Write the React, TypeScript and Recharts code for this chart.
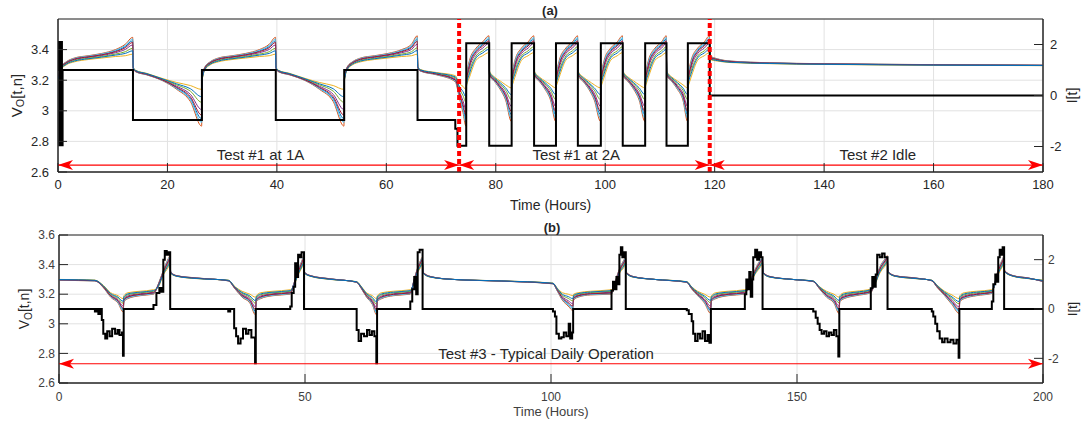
import React from 'react';
import {
  ComposedChart,
  Line,
  XAxis,
  YAxis,
  CartesianGrid,
  ReferenceLine,
  ReferenceArea,
  ReferenceDot,
} from 'recharts';

const FONT = '"Liberation Sans", Arial, Helvetica, sans-serif';
const AXIS = '#262626';
const GRID = '#e2e2e2';
const RED = '#ff0000';

// cells (MATLAB default colour order) and their relative position inside the spread
const cellColors = ['#0072BD', '#D95319', '#EDB120', '#7E2F8E', '#77AC30', '#4DBEEE', '#A2142F', '#0072BD'];
const cellSpread = [0.8, 1.0, 0.0, 0.55, 0.35, 0.9, 0.7, 0.2];

// ticks
const topTimeTicks = [0, 20, 40, 60, 80, 100, 120, 140, 160, 180];
const topVoltTicks = [2.6, 2.8, 3, 3.2, 3.4];
const currentTicks = [-2, 0, 2];
const bottomTimeTicks = [0, 50, 100, 150, 200];
const bottomVoltTicks = [2.6, 2.8, 3, 3.2, 3.4, 3.6];

// annotations
const phaseBoundaries = [73.3, 119.1];
const topSegments = [[0, 73.3], [73.3, 119.1], [119.1, 180]];
const topSegmentLabels = ['Test #1 at 1A', 'Test #1 at 2A', 'Test #2 Idle'];
const topLabelTimes = [37, 94.7, 149.8];
const topArrowLevel = 2.645;
const bottomSegments = [[0, 200]];
const bottomSegmentLabels = ['Test #3 - Typical Daily Operation'];
const bottomLabelTimes = [99];
const bottomArrowLevel = 2.73;

// Test #1 at 1A : [time, voltage of nearest cell, voltage of farthest cell]
const topVoltage1A = [
  [0, 3.2, 3.22], [0.6, 3.27, 3.29], [1.5, 3.3, 3.32], [3, 3.32, 3.345], [5.5, 3.335, 3.36], [8, 3.345, 3.375], [10.5, 3.355, 3.4], [12.3, 3.36, 3.435], [13.65, 3.37, 3.48],
  [13.75, 3.285, 3.275], [14.2, 3.265, 3.255], [16.2, 3.245, 3.235], [19.2, 3.21, 3.195], [21.7, 3.185, 3.14], [24.2, 3.165, 3.06], [26.25, 3.14, 2.9],
  [26.35, 3.2, 3.22], [26.9, 3.27, 3.29], [27.8, 3.3, 3.32], [29.3, 3.32, 3.345], [31.8, 3.335, 3.36], [34.3, 3.345, 3.375], [36.8, 3.355, 3.4], [38.6, 3.36, 3.435], [39.75, 3.37, 3.48],
  [39.85, 3.285, 3.275], [40.3, 3.265, 3.255], [42.3, 3.245, 3.235], [45.3, 3.21, 3.195], [47.8, 3.185, 3.14], [50.3, 3.165, 3.06], [52.25, 3.14, 2.9],
  [52.35, 3.2, 3.22], [52.9, 3.27, 3.29], [53.8, 3.3, 3.32], [55.3, 3.32, 3.345], [57.8, 3.335, 3.36], [60.3, 3.345, 3.375], [62.8, 3.355, 3.4], [64.6, 3.36, 3.435], [65.65, 3.37, 3.49],
  [65.75, 3.29, 3.28], [66.2, 3.27, 3.26], [69.2, 3.25, 3.235], [72.6, 3.23, 3.19],
];

// Test #1 at 2A
const topVoltage2A = [
  [73.3, 3.18, 3.09], [74.0, 3.16, 2.99], [74.55, 3.14, 2.9],
  [74.65, 3.16, 3.2], [75.2, 3.22, 3.33], [76.4, 3.33, 3.41], [77.6, 3.36, 3.45], [78.75, 3.38, 3.49],
  [78.85, 3.26, 3.23], [79.8, 3.22, 3.19], [80.8, 3.195, 3.14], [81.8, 3.17, 3.07], [82.85, 3.15, 2.93],
  [82.95, 3.16, 3.2], [83.5, 3.22, 3.33], [84.7, 3.33, 3.41], [85.9, 3.36, 3.45], [86.95, 3.38, 3.49],
  [87.05, 3.26, 3.23], [88.0, 3.22, 3.19], [89.0, 3.195, 3.14], [90.0, 3.17, 3.07], [90.95, 3.15, 2.93],
  [91.05, 3.16, 3.2], [91.6, 3.22, 3.33], [92.8, 3.33, 3.41], [94.0, 3.36, 3.45], [94.95, 3.38, 3.49],
  [95.05, 3.26, 3.23], [96.0, 3.22, 3.19], [97.0, 3.195, 3.14], [98.0, 3.17, 3.07], [99.15, 3.15, 2.93],
  [99.25, 3.16, 3.2], [99.8, 3.22, 3.33], [101.0, 3.33, 3.41], [102.2, 3.36, 3.45], [103.15, 3.38, 3.49],
  [103.25, 3.26, 3.23], [104.2, 3.22, 3.19], [105.2, 3.195, 3.14], [106.2, 3.17, 3.07], [107.25, 3.15, 2.93],
  [107.35, 3.16, 3.2], [107.9, 3.22, 3.33], [109.1, 3.33, 3.41], [110.3, 3.36, 3.45], [111.15, 3.38, 3.49],
  [111.25, 3.26, 3.23], [112.2, 3.22, 3.19], [113.2, 3.195, 3.14], [114.2, 3.17, 3.07], [115.05, 3.15, 2.93],
  [115.15, 3.16, 3.2], [115.7, 3.22, 3.33], [116.9, 3.33, 3.41], [118.1, 3.36, 3.45], [119.05, 3.38, 3.49],
];

// Test #2 idle
const topVoltageIdle = [
  [119.15, 3.335, 3.36], [120.5, 3.325, 3.34], [123, 3.315, 3.325], [130, 3.308, 3.314], [140, 3.303, 3.308], [160, 3.298, 3.302], [180, 3.295, 3.298],
];

// current I[t] for tests #1 and #2 : [time, amps]
const topCurrent = [
  [0, 1], [0.12, 2.1], [0.24, -1.95], [0.36, 2.1], [0.48, -1.95], [0.6, 2.1], [0.72, -1.95], [0.84, 1.0],
  [13.7, -0.96], [26.3, 1.0], [39.8, -0.96], [52.3, 1.0], [65.7, -0.96], [72.6, -1.3], [73.0, -1.97],
  [74.6, 2.05], [78.8, -1.97], [82.9, 2.05], [87.0, -1.97], [91.0, 2.05], [95.0, -1.97], [99.2, 2.05],
  [103.2, -1.97], [107.3, 2.05], [111.2, -1.97], [115.1, 2.05], [119.1, 0], [180, 0],
];

// Test #3 typical daily operation : [time, nearest cell, farthest cell]
const bottomVoltage = [
  [0, 3.3, 3.295], [4, 3.298, 3.292],
  [7.3, 3.295, 3.29], [9.0, 3.26, 3.245], [10.5, 3.21, 3.18], [12.0, 3.19, 3.14], [13.05, 3.17, 3.08],
  [13.2, 3.19, 3.15], [14.0, 3.21, 3.17], [16.5, 3.22, 3.19], [19.2, 3.23, 3.2],
  [20.2, 3.25, 3.27], [21.2, 3.33, 3.36], [22.2, 3.38, 3.44], [22.55, 3.4, 3.46],
  [22.7, 3.34, 3.35], [24.0, 3.32, 3.325], [28.0, 3.305, 3.31],
  [34.4, 3.295, 3.29], [35.8, 3.25, 3.235], [37.2, 3.22, 3.18], [38.8, 3.2, 3.14], [39.95, 3.18, 3.06],
  [40.1, 3.19, 3.15], [41.0, 3.21, 3.17], [43.5, 3.22, 3.19], [47.0, 3.23, 3.2],
  [47.8, 3.26, 3.28], [48.6, 3.33, 3.36], [49.4, 3.38, 3.43], [49.75, 3.4, 3.46],
  [49.9, 3.34, 3.35], [51.2, 3.32, 3.325], [55.0, 3.3, 3.305],
  [60.5, 3.285, 3.28], [61.5, 3.25, 3.235], [62.5, 3.21, 3.18], [63.7, 3.19, 3.13], [64.55, 3.17, 3.06],
  [64.7, 3.19, 3.15], [65.6, 3.21, 3.17], [68.0, 3.22, 3.19], [71.4, 3.23, 3.2],
  [72.1, 3.27, 3.29], [72.8, 3.34, 3.37], [73.5, 3.38, 3.43], [73.85, 3.4, 3.45],
  [74.0, 3.34, 3.35], [75.5, 3.315, 3.32], [80.0, 3.3, 3.3], [90.0, 3.29, 3.288],
  [100.4, 3.275, 3.27], [101.3, 3.24, 3.22], [102.3, 3.21, 3.16], [103.5, 3.2, 3.12], [104.45, 3.19, 3.09],
  [104.6, 3.2, 3.16], [105.5, 3.21, 3.18], [108.0, 3.22, 3.195], [112.3, 3.23, 3.2],
  [113.1, 3.27, 3.29], [113.9, 3.34, 3.37], [114.8, 3.38, 3.43], [115.15, 3.4, 3.45],
  [115.3, 3.34, 3.35], [116.7, 3.315, 3.32], [121.0, 3.3, 3.3],
  [127.6, 3.285, 3.28], [128.6, 3.25, 3.235], [129.8, 3.22, 3.19], [131.2, 3.2, 3.14], [132.45, 3.18, 3.07],
  [132.6, 3.19, 3.15], [133.5, 3.21, 3.17], [136.0, 3.22, 3.19], [139.4, 3.23, 3.2],
  [140.4, 3.26, 3.28], [141.4, 3.33, 3.36], [142.5, 3.38, 3.43], [142.95, 3.4, 3.45],
  [143.1, 3.34, 3.35], [144.5, 3.315, 3.32], [149.0, 3.3, 3.3],
  [153.3, 3.29, 3.285], [154.6, 3.25, 3.235], [156.0, 3.22, 3.18], [157.5, 3.2, 3.14], [158.55, 3.18, 3.07],
  [158.7, 3.19, 3.15], [159.6, 3.21, 3.17], [162.0, 3.22, 3.19], [165.0, 3.235, 3.21],
  [165.9, 3.27, 3.29], [166.8, 3.34, 3.38], [167.9, 3.39, 3.44], [168.35, 3.41, 3.46],
  [168.5, 3.345, 3.355], [170.0, 3.32, 3.325], [174.0, 3.305, 3.31],
  [177.4, 3.295, 3.29], [178.5, 3.26, 3.245], [180.0, 3.22, 3.19], [181.5, 3.195, 3.13], [182.95, 3.17, 3.07],
  [183.1, 3.19, 3.15], [184.0, 3.21, 3.17], [186.5, 3.22, 3.19], [189.6, 3.23, 3.205],
  [190.3, 3.27, 3.29], [191.0, 3.34, 3.38], [191.8, 3.39, 3.44], [192.05, 3.41, 3.46],
  [192.2, 3.35, 3.36], [194.0, 3.32, 3.325], [197.0, 3.305, 3.31], [200, 3.295, 3.285],
];

const bottomCurrent = [
  [0, 0], [7.3, -0.1], [7.7, 0], [8.0, -0.2], [8.4, 0], [8.7, -0.45], [9.0, -1.0], [9.4, -1.2], [9.8, -0.9], [10.3, -1.1], [10.8, -0.8], [11.4, -1.0], [11.9, -0.85], [12.3, -1.05], [12.8, -0.95], [13.0, -1.9], [13.15, 0],
  [19.2, 0.16], [19.8, 0.65], [20.4, 0.85], [20.8, 0.7], [21.2, 2.0], [21.5, 2.35], [21.9, 2.2], [22.2, 2.3], [22.6, 0],
  [34.4, -0.1], [34.8, 0], [35.6, -0.78], [36.0, -1.1], [36.4, -1.4], [36.9, -1.2], [37.4, -0.8], [38.0, -1.0], [38.5, -0.85], [39.1, -1.16], [39.85, -2.2], [40.0, 0],
  [47.0, 0.1], [47.3, 0.65], [47.7, 0.9], [48.0, 1.85], [48.3, 1.3], [48.6, 2.2], [49.0, 2.1], [49.3, 2.3], [49.8, 0],
  [60.5, -0.85], [60.9, -1.3], [61.4, -1.0], [62.0, -1.1], [62.6, -0.85], [63.1, -1.05], [63.6, -0.9], [64.1, -1.1], [64.5, -2.2], [64.65, 0],
  [71.4, 0.3], [71.8, 0.8], [72.2, 1.3], [72.6, 0.6], [72.9, 2.3], [73.3, 2.4], [73.9, 0],
  [100.4, -0.1], [100.8, -0.3], [101.1, -1.0], [101.6, -1.2], [102.1, -1.15], [102.6, -0.95], [103.1, -1.1], [103.6, -0.6], [103.9, -1.2], [104.3, -0.95], [104.5, 0],
  [112.3, 0.75], [112.6, 1.1], [113.0, 0.8], [113.3, 1.3], [113.7, 1.0], [113.9, 2.2], [114.2, 2.5], [114.5, 2.1], [114.8, 2.3], [115.2, 0],
  [127.6, -0.05], [128.0, -0.2], [128.6, -0.5], [128.9, -1.0], [129.3, -1.3], [129.8, -1.0], [130.3, -1.2], [130.8, -0.9], [131.3, -1.3], [131.8, -1.05], [132.2, -1.37], [132.5, 0],
  [139.4, 0.6], [139.7, 1.2], [140.0, 0.8], [140.3, 1.5], [140.6, 0.5], [140.9, 1.2], [141.1, 2.1], [141.5, 2.4], [141.9, 2.0], [142.3, 2.3], [142.7, 2.1], [143.0, 0],
  [153.3, -0.1], [153.8, -0.35], [154.2, -0.6], [154.6, -0.85], [155.0, -1.0], [155.5, -0.9], [156.0, -1.1], [156.5, -0.95], [157.0, -1.05], [157.5, -0.85], [158.0, -1.1], [158.4, -1.93], [158.6, 0],
  [165.0, 0.84], [165.3, 1.3], [165.6, 0.9], [166.0, 1.4], [166.3, 2.2], [166.8, 2.1], [167.3, 2.25], [167.8, 2.1], [168.4, 0],
  [177.4, -0.1], [177.7, -0.3], [178.1, -0.6], [178.5, -0.9], [179.0, -1.2], [179.5, -1.35], [180.0, -1.2], [180.6, -1.35], [181.2, -1.25], [181.8, -1.4], [182.4, -1.25], [182.85, -1.98], [183.0, 0],
  [189.6, 0.3], [189.9, 1.0], [190.3, 1.4], [190.6, 1.1], [190.9, 2.1], [191.2, 2.4], [191.5, 2.2], [191.8, 2.5], [192.1, 0], [200, 0],
];

// ---------- table builders ----------
function buildCells(rows: number[][]) {
  return rows.map(([t, near, far]) => {
    const r: Record<string, number> = { t };
    cellSpread.forEach((p, i) => {
      r['c' + i] = near + p * (far - near);
    });
    return r;
  });
}
function buildCurrent(rows: number[][]) {
  return rows.map(([t, i]) => ({ t, i }));
}
function buildArrow(seg: number[], level: number) {
  return [{ t: seg[0], v: level }, { t: seg[1], v: level }];
}

const topCells = buildCells([...topVoltage1A, ...topVoltage2A, ...topVoltageIdle]);
const topCurrentRows = buildCurrent(topCurrent);
const bottomCells = buildCells(bottomVoltage);
const bottomCurrentRows = buildCurrent(bottomCurrent);

// ---------- small render helpers ----------
const ArrowHead = (props: any) => {
  const { cx, cy, index } = props;
  if (cx == null || cy == null) return null;
  const dir = index === 0 ? 1 : -1;
  const L = 15;
  const h = 5;
  const n = 4;
  const d = `M${cx},${cy} L${cx + dir * L},${cy - h} L${cx + dir * (L - n)},${cy} L${cx + dir * L},${cy + h} Z`;
  return <path key={`ah-${index}-${cx}`} d={d} fill={RED} stroke="none" />;
};

const makeVoltLabel = (dx: number, fontSize: number) => (props: any) => {
  const vb = props.viewBox || {};
  const cx = vb.x + dx;
  const cy = vb.y + vb.height / 2;
  return (
    <text
      transform={`translate(${cx},${cy}) rotate(-90)`}
      textAnchor="middle"
      dominantBaseline="central"
      fontSize={fontSize}
      fill={AXIS}
      fontFamily={FONT}
    >
      V<tspan fontSize={fontSize * 0.72} dy={4}>O</tspan>
      <tspan dy={-4}>[t,n]</tspan>
    </text>
  );
};

const makeCurrentLabel = (dx: number, fontSize: number) => (props: any) => {
  const vb = props.viewBox || {};
  const cx = vb.x + dx;
  const cy = vb.y + vb.height / 2;
  return (
    <text
      transform={`translate(${cx},${cy}) rotate(-90)`}
      textAnchor="middle"
      dominantBaseline="central"
      fontSize={fontSize}
      fill={AXIS}
      fontFamily={FONT}
    >
      I[t]
    </text>
  );
};

function cellLines() {
  return cellSpread.map((_, i) => (
    <Line
      key={'cell' + i}
      yAxisId="v"
      dataKey={'c' + i}
      type="monotone"
      stroke={cellColors[i]}
      strokeWidth={1}
      dot={false}
      activeDot={false}
      isAnimationActive={false}
    />
  ));
}

function arrowLines(segments: number[][], level: number, prefix: string) {
  return segments.map((seg, k) => (
    <Line
      key={prefix + k}
      yAxisId="v"
      data={buildArrow(seg, level)}
      dataKey="v"
      type="linear"
      stroke={RED}
      strokeWidth={1.2}
      dot={ArrowHead}
      activeDot={false}
      isAnimationActive={false}
    />
  ));
}

function segmentLabels(labels: string[], times: number[], level: number, fontSize: number, prefix: string) {
  return labels.map((txt, k) => (
    <ReferenceDot
      key={prefix + k}
      yAxisId="v"
      x={times[k]}
      y={level}
      r={0}
      fill="none"
      stroke="none"
      label={{ value: txt, position: 'top', offset: 5, fill: AXIS, fontSize, fontFamily: FONT }}
    />
  ));
}

function TopChart() {
  return (
    <ComposedChart
      width={1086}
      height={216}
      data={topCells}
      margin={{ top: 19, right: 8, bottom: 22, left: 8 }}
      style={{ fontFamily: FONT }}
    >
      <CartesianGrid yAxisId="v" stroke={GRID} strokeWidth={1} />
      <XAxis
        dataKey="t"
        type="number"
        domain={[0, 180]}
        ticks={topTimeTicks}
        interval={0}
        allowDataOverflow
        height={22}
        tickSize={-9}
        tickMargin={17}
        stroke={AXIS}
        tick={{ fill: AXIS, fontSize: 13 }}
        label={{ value: 'Time (Hours)', position: 'bottom', offset: 6, fill: AXIS, fontSize: 14 }}
      />
      <XAxis
        xAxisId="top"
        orientation="top"
        type="number"
        domain={[0, 180]}
        ticks={topTimeTicks}
        interval={0}
        allowDataOverflow
        height={0}
        tick={false}
        tickSize={-9}
        stroke={AXIS}
      />
      <YAxis
        yAxisId="v"
        type="number"
        domain={[2.6, 3.6]}
        ticks={topVoltTicks}
        interval={0}
        allowDataOverflow
        width={50}
        tickSize={-9}
        tickMargin={18}
        stroke={AXIS}
        tick={{ fill: AXIS, fontSize: 13 }}
        label={makeVoltLabel(8, 15)}
      />
      <YAxis
        yAxisId="i"
        orientation="right"
        type="number"
        domain={[-3, 3]}
        ticks={currentTicks}
        interval={0}
        allowDataOverflow
        width={35}
        tickSize={-9}
        tickMargin={16}
        stroke={AXIS}
        tick={{ fill: AXIS, fontSize: 13 }}
        label={makeCurrentLabel(29, 14)}
      />
      <ReferenceArea yAxisId="v" x1={0} x2={180} y1={2.6} y2={3.6} fill="none" stroke={AXIS} strokeWidth={1} />
      {cellLines()}
      <Line
        yAxisId="i"
        data={topCurrentRows}
        dataKey="i"
        type="stepAfter"
        stroke="#000"
        strokeWidth={2}
        dot={false}
        activeDot={false}
        isAnimationActive={false}
      />
      {phaseBoundaries.map((x, k) => (
        <ReferenceLine key={'pb' + k} yAxisId="v" x={x} stroke={RED} strokeWidth={4} strokeDasharray="5 3" />
      ))}
      {arrowLines(topSegments, topArrowLevel, 'ta')}
      {segmentLabels(topSegmentLabels, topLabelTimes, topArrowLevel, 15, 'tl')}
    </ComposedChart>
  );
}

function BottomChart() {
  return (
    <ComposedChart
      width={1086}
      height={214}
      data={bottomCells}
      margin={{ top: 25, right: 8, bottom: 19, left: 8 }}
      style={{ fontFamily: FONT }}
    >
      <CartesianGrid yAxisId="v" stroke={GRID} strokeWidth={1} />
      <XAxis
        dataKey="t"
        type="number"
        domain={[0, 200]}
        ticks={bottomTimeTicks}
        interval={0}
        allowDataOverflow
        height={22}
        tickSize={-9}
        tickMargin={18}
        stroke={AXIS}
        tick={{ fill: '#404040', fontSize: 12 }}
        label={{ value: 'Time (Hours)', position: 'bottom', offset: 2, fill: '#404040', fontSize: 13 }}
      />
      <XAxis
        xAxisId="top"
        orientation="top"
        type="number"
        domain={[0, 200]}
        ticks={bottomTimeTicks}
        interval={0}
        allowDataOverflow
        height={0}
        tick={false}
        tickSize={-9}
        stroke={AXIS}
      />
      <YAxis
        yAxisId="v"
        type="number"
        domain={[2.6, 3.6]}
        ticks={bottomVoltTicks}
        interval={0}
        allowDataOverflow
        width={51}
        tickSize={-9}
        tickMargin={13}
        stroke={AXIS}
        tick={{ fill: '#404040', fontSize: 12 }}
        label={makeVoltLabel(16, 14)}
      />
      <YAxis
        yAxisId="i"
        orientation="right"
        type="number"
        domain={[-3, 3]}
        ticks={currentTicks}
        interval={0}
        allowDataOverflow
        width={35}
        tickSize={-9}
        tickMargin={14}
        stroke={AXIS}
        tick={{ fill: '#404040', fontSize: 12 }}
        label={makeCurrentLabel(29, 13)}
      />
      <ReferenceArea yAxisId="v" x1={0} x2={200} y1={2.6} y2={3.6} fill="none" stroke={AXIS} strokeWidth={1} />
      {cellLines()}
      <Line
        yAxisId="i"
        data={bottomCurrentRows}
        dataKey="i"
        type="stepAfter"
        stroke="#000"
        strokeWidth={2}
        dot={false}
        activeDot={false}
        isAnimationActive={false}
      />
      {arrowLines(bottomSegments, bottomArrowLevel, 'ba')}
      {segmentLabels(bottomSegmentLabels, bottomLabelTimes, bottomArrowLevel, 15, 'bl')}
    </ComposedChart>
  );
}

export default function App() {
  return (
    <div
      style={{
        position: 'absolute',
        left: 0,
        top: 0,
        width: 1086,
        height: 424,
        background: '#fff',
        fontFamily: FONT,
        overflow: 'hidden',
      }}
    >
      <div style={{ position: 'absolute', left: 0, top: 0 }}>
        <TopChart />
      </div>
      <div style={{ position: 'absolute', left: 0, top: 210 }}>
        <BottomChart />
      </div>
      <div
        style={{
          position: 'absolute',
          left: 550,
          top: 10,
          transform: 'translate(-50%, -50%)',
          fontWeight: 'bold',
          fontSize: 13,
          color: AXIS,
        }}
      >
        (a)
      </div>
      <div
        style={{
          position: 'absolute',
          left: 552,
          top: 227,
          transform: 'translate(-50%, -50%)',
          fontWeight: 'bold',
          fontSize: 13,
          color: AXIS,
        }}
      >
        (b)
      </div>
    </div>
  );
}
